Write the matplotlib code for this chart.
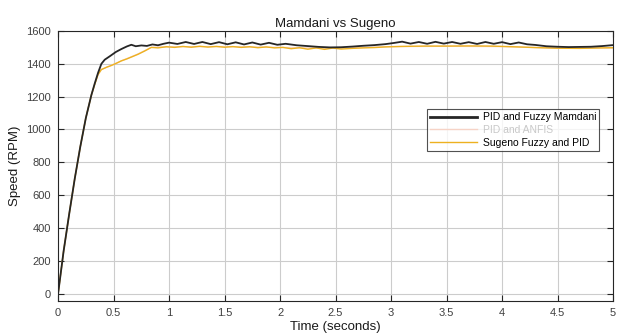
import matplotlib.pyplot as plt

plt.rcParams['font.family'] = ['Liberation Sans', 'DejaVu Sans']

# PID and Fuzzy Mamdani (black)
t_mamdani = [0, 0.05, 0.1, 0.15, 0.2, 0.25, 0.3, 0.33, 0.36, 0.39, 0.42, 0.47, 0.52, 0.57, 0.62, 0.66,
             0.7, 0.75, 0.8, 0.85, 0.9, 0.95, 1.0, 1.075, 1.15, 1.225, 1.3, 1.375, 1.45, 1.525,
             1.6, 1.675, 1.75, 1.825, 1.9, 1.975, 2.05, 2.15, 2.25, 2.35, 2.45, 2.55, 2.65, 2.75,
             2.85, 2.95, 3.025, 3.1, 3.175, 3.25, 3.325, 3.4, 3.475, 3.55, 3.625, 3.7, 3.775,
             3.85, 3.925, 4.0, 4.075, 4.15, 4.225, 4.3, 4.4, 4.5, 4.6, 4.7, 4.8, 4.9, 5.0]
v_mamdani = [0, 260, 485, 700, 895, 1070, 1210, 1280, 1345, 1400, 1425, 1448, 1472, 1490, 1506, 1516,
             1507, 1512, 1509, 1518, 1513, 1522, 1529, 1521, 1533, 1521, 1533, 1520, 1532, 1519,
             1531, 1518, 1530, 1517, 1528, 1516, 1522, 1513, 1508, 1503, 1500, 1501, 1505, 1510,
             1514, 1520, 1527, 1535, 1523, 1533, 1522, 1534, 1523, 1533, 1522, 1532, 1521, 1533,
             1522, 1532, 1520, 1530, 1519, 1515, 1507, 1504, 1502, 1503, 1504, 1508, 1514]

# PID and ANFIS (light pink, lies under the Sugeno curve)
t_anfis = [0, 0.05, 0.1, 0.15, 0.2, 0.25, 0.3, 0.33, 0.36, 0.39, 0.44, 0.48, 0.57, 0.65, 0.72, 0.78,
           0.84, 0.9, 1.0, 1.5, 2.0, 2.5, 3.0, 3.5, 4.0, 4.5, 5.0]
v_anfis = [0, 260, 485, 700, 895, 1070, 1210, 1275, 1335, 1365, 1380, 1390, 1418, 1440, 1460, 1480,
           1500, 1502, 1504, 1505, 1500, 1494, 1505, 1507, 1505, 1495, 1497]

# Sugeno Fuzzy and PID (yellow)
t_sugeno = [0, 0.05, 0.1, 0.15, 0.2, 0.25, 0.3, 0.33, 0.36, 0.39, 0.44, 0.48, 0.53, 0.57, 0.62, 0.67,
            0.72, 0.78, 0.84, 0.9, 0.975, 1.05, 1.125, 1.2, 1.275, 1.35, 1.425, 1.5, 1.575,
            1.65, 1.725, 1.8, 1.875, 1.95, 2.025, 2.1, 2.175, 2.25, 2.325, 2.4, 2.475, 2.55,
            2.65, 2.75, 2.85, 2.95, 3.1, 3.3, 3.5, 3.7, 3.9, 4.1, 4.3, 4.5, 4.7, 4.9, 5.0]
v_sugeno = [0, 260, 485, 700, 895, 1070, 1210, 1275, 1335, 1365, 1380, 1390, 1405, 1418, 1430, 1444,
            1458, 1478, 1500, 1497, 1504, 1500, 1506, 1501, 1507, 1502, 1506, 1501, 1505,
            1500, 1504, 1498, 1503, 1497, 1500, 1492, 1498, 1489, 1497, 1488, 1496, 1490,
            1494, 1497, 1499, 1503, 1506, 1508, 1508, 1509, 1508, 1504, 1499, 1495, 1494, 1497, 1498]

fig = plt.figure(figsize=(6.18, 3.35), dpi=100)
ax = fig.add_axes([0.094, 0.1015, 0.898, 0.806])

ax.plot(t_anfis, v_anfis, color='#f6d3c6', lw=1.0, label='PID and ANFIS')
ax.plot(t_sugeno, v_sugeno, color='#edb120', lw=1.0, label='Sugeno Fuzzy and PID')
ax.plot(t_mamdani, v_mamdani, color='#262626', lw=1.3, label='PID and Fuzzy Mamdani')

ax.set_xlim(0, 5)
ax.set_ylim(-45, 1600)
ax.set_xticks([0, 0.5, 1, 1.5, 2, 2.5, 3, 3.5, 4, 4.5, 5])
ax.set_xticklabels(['0', '0.5', '1', '1.5', '2', '2.5', '3', '3.5', '4', '4.5', '5'])
ax.set_yticks([0, 200, 400, 600, 800, 1000, 1200, 1400, 1600])

ax.grid(True, color='#cccccc', lw=0.8)
ax.set_axisbelow(True)
ax.tick_params(direction='in', top=True, right=True, length=4, width=0.8,
               colors='#262626', labelcolor='#404040', labelsize=8, pad=5)
for s in ax.spines.values():
    s.set_color('#262626')
    s.set_linewidth(0.8)

ax.set_title('Mamdani vs Sugeno', fontsize=9.5, color='#1a1a1a', pad=3)
ax.set_xlabel('Time (seconds)', fontsize=9.5, color='#1a1a1a', labelpad=2)
ax.set_ylabel('Speed (RPM)', fontsize=9.5, color='#1a1a1a', labelpad=4)

h, l = ax.get_legend_handles_labels()
order = [2, 0, 1]
leg = ax.legend([h[i] for i in order], [l[i] for i in order], loc='upper right',
                bbox_to_anchor=(0.975, 0.71), fontsize=7.5, frameon=True, fancybox=False,
                handlelength=4.5, borderpad=0.3, labelspacing=0.25, handletextpad=0.5,
                borderaxespad=0)
leg.get_frame().set_edgecolor('#262626')
leg.get_frame().set_linewidth(0.8)
leg.get_texts()[1].set_color('#c8c8c8')
leg.get_lines()[0].set_linewidth(2.0)

fig.savefig('out.png', dpi=100)
